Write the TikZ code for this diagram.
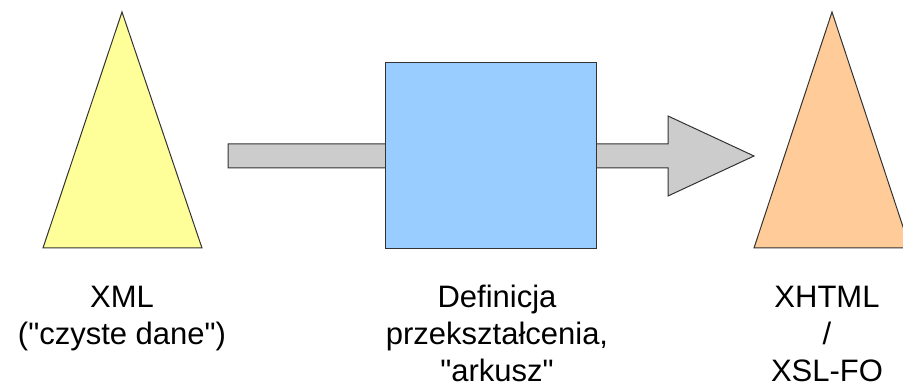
\documentclass[tikz,border=0pt]{standalone}
\usepackage{fontspec}
\setmainfont{Liberation Sans}[Ligatures=TeXOff]
\usetikzlibrary{calc}
\definecolor{xmlfill}{HTML}{FFFF99}
\definecolor{xslfill}{HTML}{99CCFF}
\definecolor{outfill}{HTML}{FFCC99}
\definecolor{flowfill}{HTML}{CCCCCC}
\definecolor{edge}{HTML}{333333}
\begin{document}
\begin{tikzpicture}[x=1pt,y=-1pt,
  shape outline/.style={draw=edge,line width=1pt,line join=miter},
  caption/.style={align=center,inner sep=0pt,anchor=base,
    font=\fontsize{31}{37}\selectfont}]
\useasboundingbox (0,0) rectangle (903,387);
\clip (0,0) rectangle (903,387);

% source document (XML)
\coordinate (xmlTop) at (122,12);
\coordinate (xmlL) at (43,248);
\coordinate (xmlR) at (202,248);
\filldraw[shape outline,fill=xmlfill] (xmlTop) -- (xmlR) -- (xmlL) -- cycle;

% processing flow arrow
\coordinate (flowStart) at (228,156);
\coordinate (flowEnd) at (754,156);
\filldraw[shape outline,fill=flowfill]
  ($(flowStart)+(0,-12)$) -- (668,144) -- (668,116) -- (flowEnd)
  -- (668,196) -- (668,168) -- ($(flowStart)+(0,12)$) -- cycle;

% stylesheet box
\node[shape outline,fill=xslfill,minimum width=211pt,minimum height=186pt,
      inner sep=0pt] (xsl) at (490.5,156) {};

% result document
\coordinate (outTop) at (832,12);
\coordinate (outL) at (754,248);
\coordinate (outR) at (910,248);
\filldraw[shape outline,fill=outfill] (outTop) -- (outR) -- (outL) -- cycle;

% captions (anchored on the last line's baseline)
\node[caption] (xmlLabel) at (122,345) {XML\\("czyste dane")};
\node[caption] (xslLabel) at (497,382) {Definicja\\przekształcenia,\\"arkusz"};
\node[caption] (outLabel) at (827,382) {XHTML\\/\\XSL-FO};
\end{tikzpicture}
\end{document}
